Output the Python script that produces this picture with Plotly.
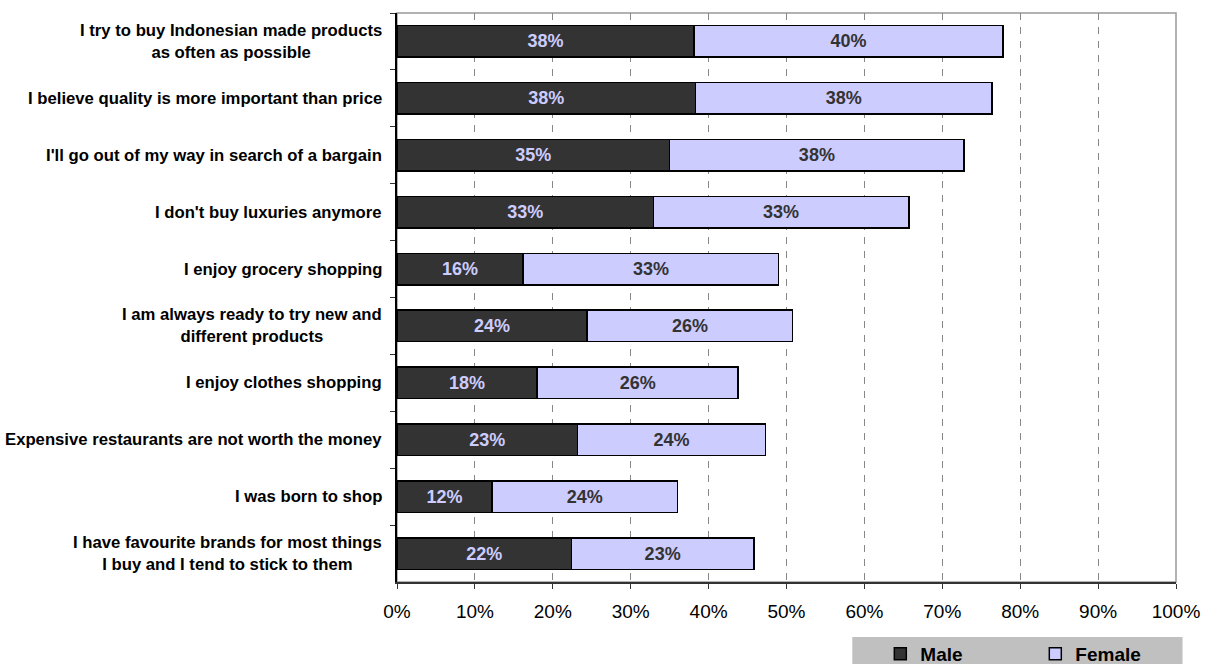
import plotly.graph_objects as go

categories = [
    "I try to buy Indonesian made products<br>as often as possible",
    "I believe quality is more important than price",
    "I'll go out of my way in search of a bargain",
    "I don't buy luxuries anymore",
    "I enjoy grocery shopping",
    "I am always ready to try new and<br>different products",
    "I enjoy clothes shopping",
    "Expensive restaurants are not worth the money",
    "I was born to shop",
    "I have favourite brands for most things<br>I buy and I tend to stick to them",
]
male = [38.1, 38.3, 35.0, 32.9, 16.2, 24.4, 18.0, 23.2, 12.2, 22.4]
female = [39.7, 38.1, 37.8, 32.8, 32.8, 26.4, 25.8, 24.1, 23.8, 23.4]
tick_vals = [0, 10, 20, 30, 40, 50, 60, 70, 80, 90, 100]
tick_text = ["0%", "10%", "20%", "30%", "40%", "50%", "60%", "70%", "80%", "90%", "100%"]

FONT = "Liberation Sans, Arial, sans-serif"
MALE_C = "#333333"
FEMALE_C = "#ccccff"

fig = go.Figure()
fig.add_trace(go.Bar(
    name="Male", y=categories, x=male, orientation="h",
    marker=dict(color=MALE_C, line=dict(color="#000000", width=1.5)),
    texttemplate="%{x:.0f}%", textposition="inside", insidetextanchor="middle",
    textangle=0, constraintext="none",
    textfont=dict(family=FONT, size=18, color=FEMALE_C, weight="bold"),
    hoverinfo="skip",
))
fig.add_trace(go.Bar(
    name="Female", y=categories, x=female, orientation="h",
    marker=dict(color=FEMALE_C, line=dict(color="#000000", width=1.5)),
    texttemplate="%{x:.0f}%", textposition="inside", insidetextanchor="middle",
    textangle=0, constraintext="none",
    textfont=dict(family=FONT, size=18, color=MALE_C, weight="bold"),
    hoverinfo="skip",
))

annotations = []
for c in categories:
    annotations.append(dict(
        x=-0.0167, xref="paper", y=c, yref="y", text=c, showarrow=False,
        xanchor="right", yanchor="middle", align="center",
        font=dict(family=FONT, size=16.7, color="#000000", weight="bold"),
    ))

shapes = [
    dict(type="rect", xref="paper", yref="paper", x0=0, x1=1, y0=0, y1=1,
         line=dict(color="#999999", width=1.5), fillcolor="rgba(0,0,0,0)", layer="between"),
    dict(type="rect", xref="paper", yref="paper",
         x0=(852 - 397) / 778.5, x1=(1182 - 397) / 778.5,
         y0=-(666 - 582) / 569, y1=-(637 - 582) / 569,
         line=dict(width=0), fillcolor="#c0c0c0", layer="below"),
]

fig.update_layout(
    width=1210, height=664,
    margin=dict(l=397, r=34, t=13, b=82, autoexpand=False),
    barmode="stack", bargap=0.447,
    plot_bgcolor="#ffffff", paper_bgcolor="#ffffff",
    font=dict(family=FONT, color="#000000"),
    annotations=annotations, shapes=shapes,
    showlegend=True,
    legend=dict(
        orientation="h", x=(880 - 397) / 778.5, xanchor="left",
        y=-(654 - 582) / 569, yanchor="middle",
        bgcolor="rgba(0,0,0,0)", entrywidth=110,
        font=dict(family=FONT, size=19, color="#000000", weight="bold"),
        traceorder="normal",
    ),
    xaxis=dict(
        range=[0, 100], tickvals=tick_vals, ticktext=tick_text,
        ticks="outside", ticklen=5, tickcolor="#333333", tickwidth=1,
        showline=True, linecolor="#333333", linewidth=2,
        showgrid=True, gridcolor="#888888", gridwidth=1, griddash="7px,7px",
        zeroline=False, ticklabelstandoff=6,
        tickfont=dict(family=FONT, size=19, color="#000000"),
        fixedrange=True,
    ),
    yaxis=dict(
        type="category", autorange="reversed",
        showticklabels=False, ticks="outside", tickson="boundaries",
        ticklen=5, tickcolor="#333333", tickwidth=1,
        showline=True, linecolor="#000000", linewidth=2,
        showgrid=False, zeroline=False, fixedrange=True,
    ),
)

fig.write_html("out.html")
